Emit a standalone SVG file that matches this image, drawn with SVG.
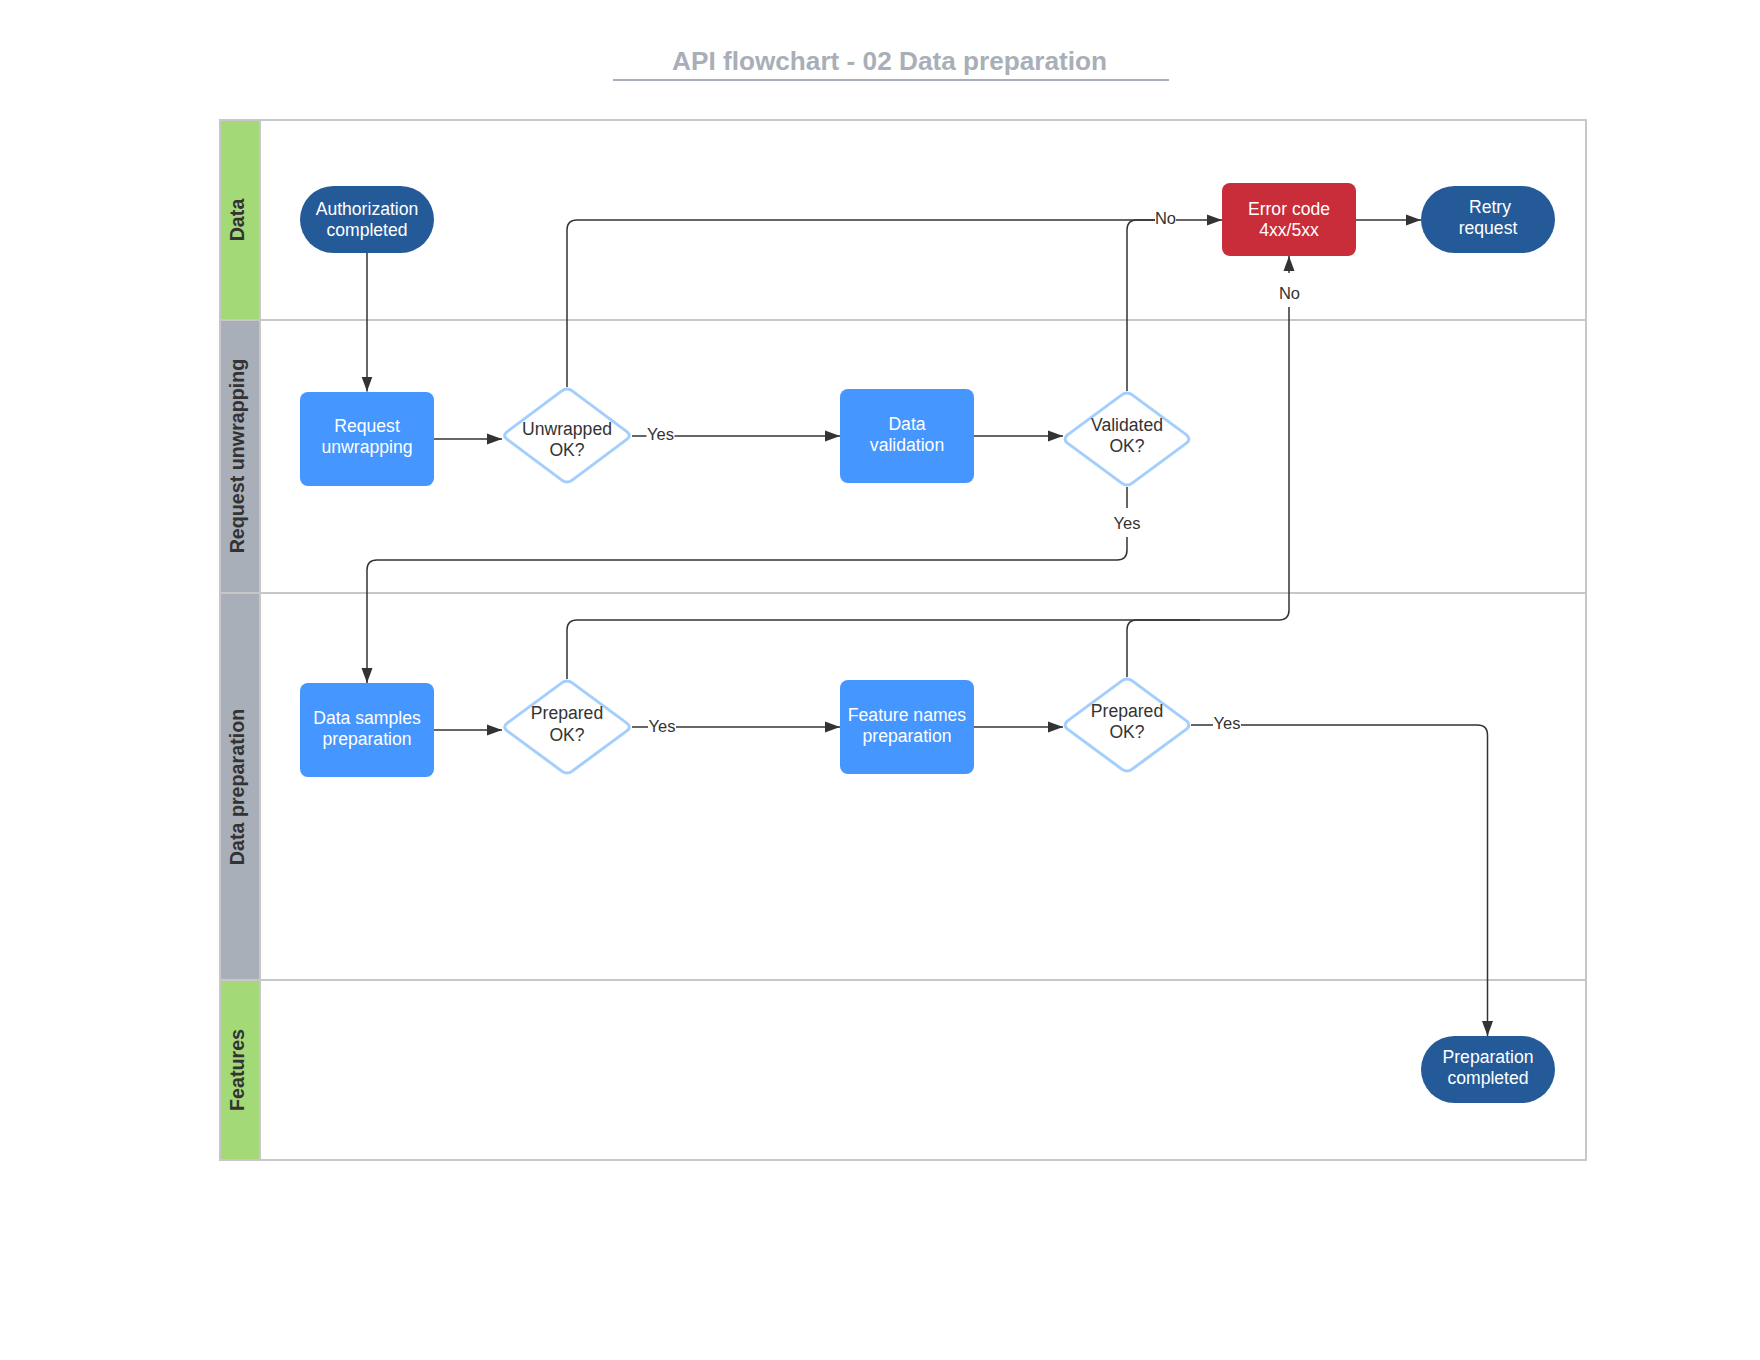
<svg xmlns="http://www.w3.org/2000/svg" width="1760" height="1360" viewBox="0 0 1760 1360">
<defs>
<marker id="arrow" markerUnits="userSpaceOnUse" markerWidth="16" markerHeight="12" viewBox="0 0 16 12" refX="15" refY="6" orient="auto">
<path d="M0,0.5 L15,6 L0,11.5 z" fill="#333333"/>
</marker>
<style>
text{font-family:"Liberation Sans",Arial,sans-serif}
.title{font-size:26.2px;font-weight:bold;fill:#a9afb8}
.lane{font-size:19.7px;font-weight:bold;fill:#333333;text-anchor:middle}
.nt{font-size:17.6px;fill:#ffffff;text-anchor:middle}
.dt{font-size:17.6px;fill:#333333;text-anchor:middle}
.lbl{font-size:16.5px;fill:#333333;text-anchor:middle}
.term{fill:#255a99}
.proc{fill:#4596ff}
.err{fill:#c92d39}
.dia{fill:#ffffff;stroke:#a3cefe;stroke-width:3;stroke-linejoin:round}
.edge{fill:none;stroke:#333333;stroke-width:1.5}
.bg{fill:#ffffff}
.grid{stroke:#c7c7c7;stroke-width:2;fill:none}
</style>
</defs>
<rect x="0" y="0" width="1760" height="1360" fill="#ffffff"/>

<g id="title">
<text class="title" x="672" y="70">API flowchart - 02 Data preparation</text>
<line x1="613" y1="80" x2="1169" y2="80" stroke="#a9afb8" stroke-width="2"/>
</g>

<g id="swimlanes">
<rect x="220" y="120" width="1366" height="1040" fill="#ffffff"/>
<rect x="221" y="121" width="38" height="198" fill="#a3d977"/>
<rect x="221" y="321" width="38" height="271" fill="#a9afb8"/>
<rect x="221" y="594" width="38" height="385" fill="#a9afb8"/>
<rect x="221" y="981" width="38" height="178" fill="#a3d977"/>
<rect class="grid" x="220" y="120" width="1366" height="1040"/>
<line class="grid" x1="260" y1="120" x2="260" y2="1160"/>
<line class="grid" x1="220" y1="320" x2="1586" y2="320"/>
<line class="grid" x1="220" y1="593" x2="1586" y2="593"/>
<line class="grid" x1="220" y1="980" x2="1586" y2="980"/>
<text class="lane" transform="translate(244,220) rotate(-90)">Data</text>
<text class="lane" transform="translate(244,456) rotate(-90)">Request unwrapping</text>
<text class="lane" transform="translate(244,787) rotate(-90)">Data preparation</text>
<text class="lane" transform="translate(244,1070) rotate(-90)">Features</text>
</g>

<g id="connectors">
<path class="edge" d="M367,253 V391.5" marker-end="url(#arrow)"/>
<path class="edge" d="M434,439 H502" marker-end="url(#arrow)"/>
<path class="edge" d="M632,436 H840" marker-end="url(#arrow)"/>
<path class="edge" d="M567,387 V230 Q567,220 577,220 H1222" marker-end="url(#arrow)"/>
<path class="edge" d="M974,436 H1063" marker-end="url(#arrow)"/>
<path class="edge" d="M1127,391 V230 Q1127,220 1137,220 H1160"/>
<path class="edge" d="M1127,487 V550 Q1127,560 1117,560 H377 Q367,560 367,570 V683" marker-end="url(#arrow)"/>
<path class="edge" d="M434,730 H502" marker-end="url(#arrow)"/>
<path class="edge" d="M632,727 H840" marker-end="url(#arrow)"/>
<path class="edge" d="M567,679 V630 Q567,620 577,620 H1279 Q1289,620 1289,610 V256" marker-end="url(#arrow)"/>
<path class="edge" d="M974,727 H1063" marker-end="url(#arrow)"/>
<path class="edge" d="M1127,677 V630 Q1127,620 1137,620 H1200"/>
<path class="edge" d="M1191,725 H1477.5 Q1487.5,725 1487.5,735 V1036" marker-end="url(#arrow)"/>
<path class="edge" d="M1356,220 H1421" marker-end="url(#arrow)"/>
<rect class="bg" x="646.5" y="426" width="28" height="18"/>
<text class="lbl" x="660.5" y="440">Yes</text>
<rect class="bg" x="1155" y="210" width="21" height="18"/>
<text class="lbl" x="1165.5" y="224">No</text>
<rect class="bg" x="1113" y="508" width="28" height="29"/>
<text class="lbl" x="1127" y="529">Yes</text>
<rect class="bg" x="1279" y="273" width="21" height="34"/>
<text class="lbl" x="1289.5" y="299">No</text>
<rect class="bg" x="648" y="718" width="28" height="18"/>
<text class="lbl" x="662" y="732">Yes</text>
<rect class="bg" x="1213" y="715" width="28" height="18"/>
<text class="lbl" x="1227" y="729">Yes</text>
</g>

<g id="authorization-completed">
<rect class="term" x="300" y="186" width="134" height="67" rx="33.5"/>
<text class="nt" x="367" y="215">Authorization</text>
<text class="nt" x="367" y="236">completed</text>
</g>

<g id="request-unwrapping">
<rect class="proc" x="300" y="392" width="134" height="94" rx="8"/>
<text class="nt" x="367" y="432">Request</text>
<text class="nt" x="367" y="453">unwrapping</text>
</g>

<g id="unwrapped-ok">
<path class="dia" d="M507.2,439.4 Q502,435.5 507.2,431.6 L561.8,390.9 Q567,387 572.2,390.9 L626.8,431.6 Q632,435.5 626.8,439.4 L572.2,480.1 Q567,484 561.8,480.1 Z"/>
<text class="dt" x="567" y="435">Unwrapped</text>
<text class="dt" x="567" y="456">OK?</text>
</g>

<g id="data-validation">
<rect class="proc" x="840" y="389" width="134" height="94" rx="8"/>
<text class="nt" x="907" y="430">Data</text>
<text class="nt" x="907" y="451">validation</text>
</g>

<g id="validated-ok">
<path class="dia" d="M1067.2,442.9 Q1063,439 1067.2,435.1 L1121.8,394.9 Q1127,391 1132.2,394.9 L1186.8,435.1 Q1191,439 1186.8,442.9 L1132.2,483.1 Q1127,487 1121.8,483.1 Z"/>
<text class="dt" x="1127" y="431">Validated</text>
<text class="dt" x="1127" y="452">OK?</text>
</g>

<g id="error-code">
<rect class="err" x="1222" y="183" width="134" height="73" rx="8"/>
<text class="nt" x="1289" y="215">Error code</text>
<text class="nt" x="1289" y="236">4xx/5xx</text>
</g>

<g id="retry-request">
<rect class="term" x="1421" y="186" width="134" height="67" rx="33.5"/>
<text class="nt" x="1490" y="213">Retry</text>
<text class="nt" x="1488" y="234">request</text>
</g>

<g id="data-samples-preparation">
<rect class="proc" x="300" y="683" width="134" height="94" rx="8"/>
<text class="nt" x="367" y="724">Data samples</text>
<text class="nt" x="367" y="745">preparation</text>
</g>

<g id="prepared-ok-1">
<path class="dia" d="M507.2,730.9 Q502,727 507.2,723.1 L561.8,682.9 Q567,679 572.2,682.9 L626.8,723.1 Q632,727 626.8,730.9 L572.2,771.1 Q567,775 561.8,771.1 Z"/>
<text class="dt" x="567" y="719">Prepared</text>
<text class="dt" x="567" y="741">OK?</text>
</g>

<g id="feature-names-preparation">
<rect class="proc" x="840" y="680" width="134" height="94" rx="8"/>
<text class="nt" x="907" y="721">Feature names</text>
<text class="nt" x="907" y="742">preparation</text>
</g>

<g id="prepared-ok-2">
<path class="dia" d="M1067.2,728.9 Q1063,725 1067.2,721.1 L1121.8,680.9 Q1127,677 1132.2,680.9 L1186.8,721.1 Q1191,725 1186.8,728.9 L1132.2,769.1 Q1127,773 1121.8,769.1 Z"/>
<text class="dt" x="1127" y="717">Prepared</text>
<text class="dt" x="1127" y="738">OK?</text>
</g>

<g id="preparation-completed">
<rect class="term" x="1421" y="1036" width="134" height="67" rx="33.5"/>
<text class="nt" x="1488" y="1063">Preparation</text>
<text class="nt" x="1488" y="1084">completed</text>
</g>
</svg>
